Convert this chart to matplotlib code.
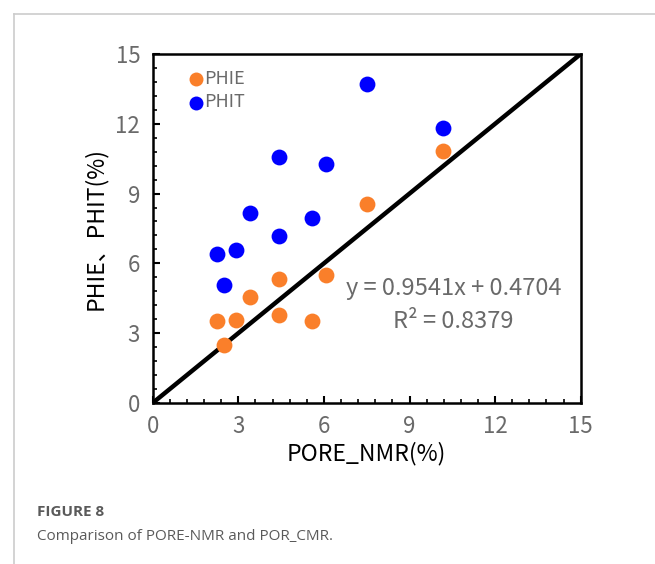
import matplotlib.pyplot as plt
import numpy as np

plt.rcParams['font.family'] = ['Noto Sans CJK SC', 'DejaVu Sans']

# data
nmr = [2.26, 2.91, 2.51, 3.42, 4.41, 4.43, 5.57, 6.09, 7.52, 10.16]
phie = [3.52, 3.57, 2.49, 4.57, 5.31, 3.78, 3.52, 5.49, 8.54, 10.84]
nmr_t = [2.26, 2.91, 2.51, 3.42, 4.43, 4.41, 5.57, 6.09, 7.52, 10.16]
phit = [6.39, 6.59, 5.06, 8.17, 7.18, 10.57, 7.94, 10.27, 13.72, 11.82]
ticks = [0, 3, 6, 9, 12, 15]

gray = '#6a6a6a'

fig = plt.figure(figsize=(6.55, 5.64), dpi=100)
ax = fig.add_axes([0.2331, 0.2855, 0.6535, 0.6188])

ax.plot([0, 15], [0, 15], color='black', lw=3.2, zorder=1)
ax.scatter(nmr, phie, s=130, color='#FA7F2A', label='PHIE', zorder=3, linewidths=0)
ax.scatter(nmr_t, phit, s=130, color='#0000FF', label='PHIT', zorder=3, linewidths=0)

ax.set_xlim(0, 15)
ax.set_ylim(0, 15)
ax.set_xticks(ticks)
ax.set_yticks(ticks)
ax.set_xticks(np.arange(0, 15.01, 0.6), minor=True)
ax.set_yticks(np.arange(0, 15.01, 0.6), minor=True)
ax.tick_params(which='major', direction='in', length=5, width=1.5, color='black',
               labelsize=16, labelcolor=gray, pad=9)
ax.tick_params(which='minor', direction='in', length=3, width=1.2, color='black')
for s in ax.spines.values():
    s.set_linewidth(1.8)

ax.set_xlabel('PORE_NMR(%)', fontsize=16.5, color='black', labelpad=2)
ax.set_ylabel('PHIE、PHIT(%)', fontsize=16.5, color='black', labelpad=6)

leg = ax.legend(loc='upper left', bbox_to_anchor=(0.058, 0.985), frameon=False,
                handlelength=0.8, handletextpad=0.05, labelspacing=0.3, fontsize=13,
                markerscale=0.88, borderaxespad=0.2)
for t in leg.get_texts():
    t.set_color(gray)

ax.text(10.55, 4.9, 'y = 0.9541x + 0.4704', fontsize=17, color=gray, ha='center', va='center')
ax.text(10.55, 3.5, 'R² = 0.8379', fontsize=17, color=gray, ha='center', va='center')

# card border
fig.add_artist(plt.Line2D([14/655, 1], [1 - 14/564, 1 - 14/564], color='#cccccc', lw=1.2))
fig.add_artist(plt.Line2D([14/655, 14/655], [0, 1 - 14/564], color='#cccccc', lw=1.2))

fig.text(37/655, 1 - 512/564, 'FIGURE 8', fontsize=11, fontweight='bold', color='#5a5a5a',
         family=['Open Sans', 'DejaVu Sans'], va='center')
fig.text(37/655, 1 - 536/564, 'Comparison of PORE-NMR and POR_CMR.', fontsize=11, color='#5a5a5a',
         family=['Open Sans', 'DejaVu Sans'], va='center')

fig.savefig('out.png', dpi=100)
